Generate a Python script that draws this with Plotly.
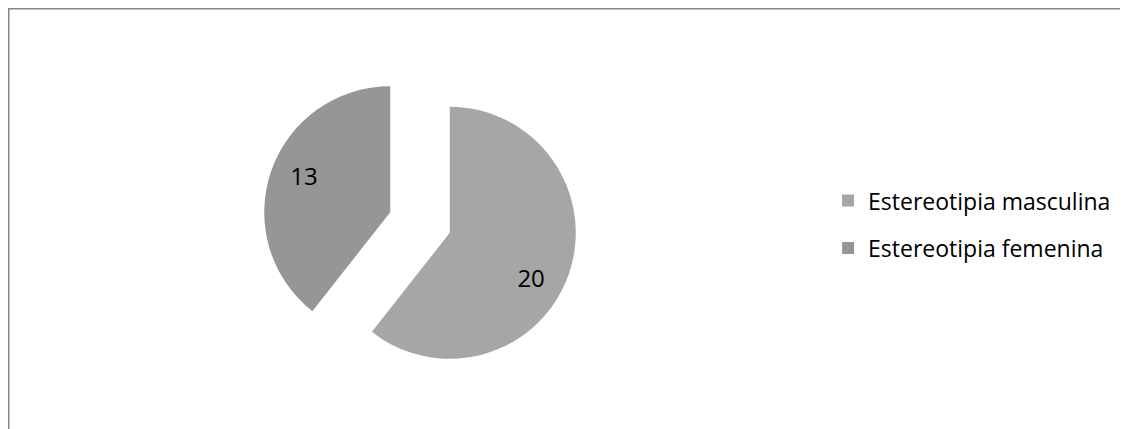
import plotly.graph_objects as go

labels = ["Estereotipia masculina", "Estereotipia femenina"]
values = [20, 13]
colors = ["#A6A6A6", "#969696"]
pulls = [0.25, 0.25]

FONT = "Open Sans, sans-serif"
NB = "&nbsp;"
# per-slice label layout: nudges the value toward the outer part of each slice
label_templates = [
    "<span style='font-size:40px'>" + NB + "</span><br>" + NB * 7 + "%{value}",
    "%{value}" + NB * 8 + "<br>" + NB,
]

fig = go.Figure()

fig.add_trace(go.Pie(
    labels=labels, values=values, sort=False, direction="clockwise", rotation=0,
    marker=dict(colors=colors, line=dict(width=0)), pull=pulls,
    texttemplate=label_templates, textposition="inside", insidetextorientation="horizontal",
    textfont=dict(family=FONT, size=24, color="#000000"),
    domain=dict(x=[0.2256, 0.5049], y=[0.1329, 0.8671]),
    showlegend=False, hoverinfo="label+value",
))

# one legend entry per label, so the gap between entries can be set
for lab, col in zip(labels, colors):
    fig.add_trace(go.Pie(
        labels=[lab], values=[1], marker=dict(colors=[col], line=dict(width=0)),
        textinfo="none", domain=dict(x=[0, 0.0001], y=[0, 0.0001]),
        legendgroup=lab, showlegend=True, hoverinfo="skip",
    ))

fig.update_layout(
    width=1128, height=429,
    margin=dict(l=0, r=0, t=0, b=0),
    paper_bgcolor="white", plot_bgcolor="white",
    font=dict(family=FONT, size=23, color="#000000"),
    legend=dict(x=0.727, y=0.601, xanchor="left", yanchor="top",
                traceorder="grouped", tracegroupgap=14.5,
                font=dict(family=FONT, size=23, color="#000000"),
                bgcolor="rgba(0,0,0,0)"),
    shapes=[dict(type="rect", xref="paper", yref="paper",
                 x0=0.75 / 1128, x1=1.05, y0=-0.05, y1=1 - 0.75 / 429,
                 line=dict(color="#868686", width=1.5), fillcolor="rgba(0,0,0,0)")],
)

fig.write_html("out.html")
